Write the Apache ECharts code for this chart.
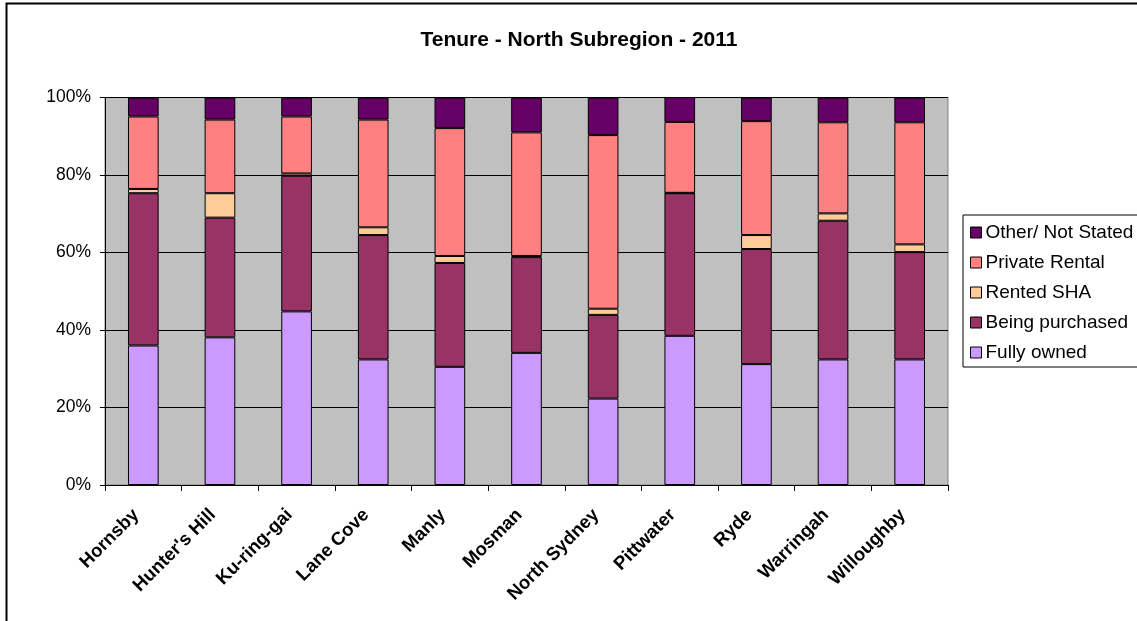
<!DOCTYPE html>
<html>
<head>
<meta charset="utf-8">
<script src="https://cdn.jsdelivr.net/npm/echarts@6/dist/echarts.min.js"></script>
<style>
html,body{margin:0;padding:0;background:#fff;}
#chart{width:1137px;height:621px;}
</style>
</head>
<body>
<div id="chart"></div>
<script>
const categories = ["Hornsby","Hunter's Hill","Ku-ring-gai","Lane Cove","Manly","Mosman","North Sydney","Pittwater","Ryde","Warringah","Willoughby"];
const fullyOwned     = [36.0, 38.1, 44.8, 32.4, 30.5, 34.1, 22.3, 38.5, 31.2, 32.4, 32.4];
const beingPurchased = [39.3, 30.9, 35.0, 32.1, 26.8, 24.7, 21.6, 36.8, 29.7, 35.8, 27.7];
const rentedSHA      = [1.1, 6.3, 0.6, 2.0, 1.8, 0.3, 1.6, 0.1, 3.6, 1.9, 2.0];
const privateRental  = [18.7, 19.0, 14.7, 27.8, 33.0, 31.9, 44.8, 18.3, 29.4, 23.5, 31.5];
const otherNotStated = [4.9, 5.7, 4.9, 5.7, 7.9, 9.0, 9.7, 6.4, 6.1, 6.4, 6.4];
const yTicks = [0, 20, 40, 60, 80, 100];
const seriesNames = ["Fully owned","Being purchased","Rented SHA","Private Rental","Other/ Not Stated"];
const seriesColors = ["#CC99FF","#993366","#FFCC99","#FF8080","#660066"];
const seriesData = [fullyOwned, beingPurchased, rentedSHA, privateRental, otherNotStated];

const chart = echarts.init(document.getElementById('chart'), null, {renderer:'canvas'});
const FONT = 'Liberation Sans, Arial, sans-serif';
chart.setOption({
  animation:false,
  textStyle:{fontFamily:FONT},
  title:{
    text:'Tenure - North Subregion - 2011',
    left:574, top:25, textAlign:'center',
    textStyle:{fontSize:21, fontWeight:'bold', color:'#000', fontFamily:FONT}
  },
  graphic:[{
    type:'rect', silent:true, z:100,
    shape:{x:6.5, y:3.5, width:1200, height:700},
    style:{fill:'none', stroke:'#000', lineWidth:2}
  }],
  legend:{
    data:seriesNames.slice().reverse(),
    orient:'vertical', left:963, top:215,
    padding:[8,6,5,7],
    itemWidth:11, itemHeight:11, itemGap:11,
    icon:'rect',
    backgroundColor:'#fff', borderColor:'#000', borderWidth:1, borderRadius:0,
    textStyle:{fontSize:19, color:'#000', fontFamily:FONT, padding:[0,0,0,-1]},
    itemStyle:{borderColor:'#000', borderWidth:1}
  },
  grid:{
    left:105, right:189, top:97.5, bottom:136,
    show:true, backgroundColor:'#C0C0C0', borderColor:'#808080', borderWidth:1
  },
  xAxis:{
    type:'category', data:categories,
    axisLine:{show:true, lineStyle:{color:'#000', width:1}},
    axisTick:{show:true, length:6, alignWithLabel:false, lineStyle:{color:'#000'}},
    axisLabel:{rotate:45, margin:20, fontSize:18.5, fontWeight:'bold', color:'#000', fontFamily:FONT, interval:0, padding:[0,10,0,0]},
    splitLine:{show:false}
  },
  yAxis:{
    type:'value', min:0, max:100, interval:20,
    axisLine:{show:true, lineStyle:{color:'#000', width:1}},
    axisTick:{show:true, length:5, lineStyle:{color:'#000'}},
    axisLabel:{formatter:function(v){return yTicks.indexOf(v) >= 0 ? v + '%' : '';}, margin:14, fontSize:17.5, color:'#000', fontFamily:FONT},
    splitLine:{show:true, lineStyle:{color:'#000', width:1}}
  },
  series:seriesNames.map(function(name,i){
    return {
      name:name, type:'bar', stack:'total', barWidth:'40%',
      data:seriesData[i],
      itemStyle:{color:seriesColors[i], borderColor:'#000', borderWidth:1}
    };
  })
});
</script>
</body>
</html>
